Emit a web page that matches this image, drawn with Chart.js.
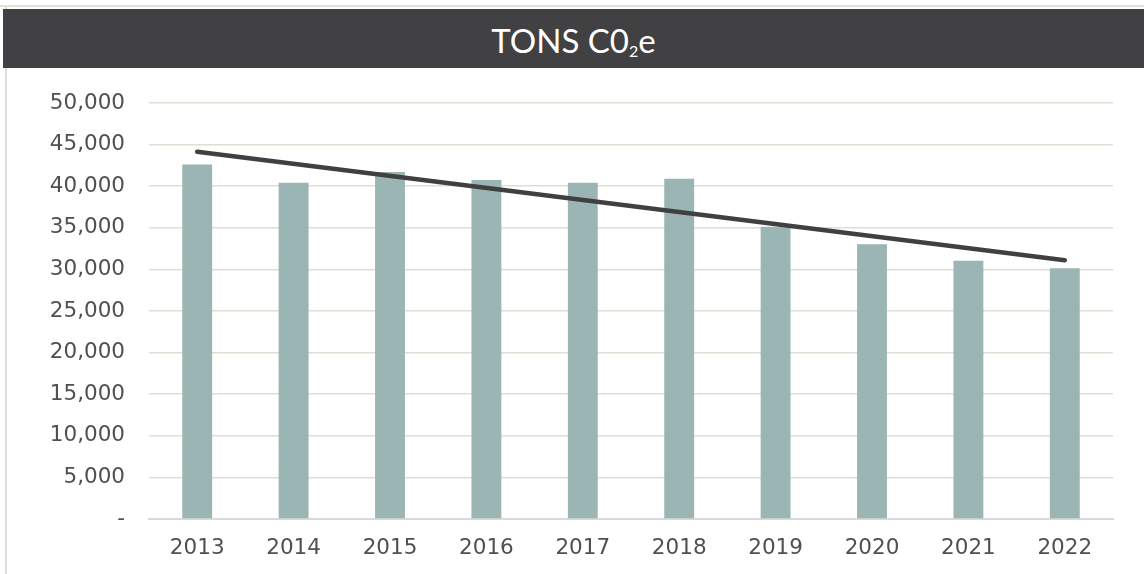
<!DOCTYPE html>
<html>
<head>
<meta charset="utf-8">
<script src="https://cdn.jsdelivr.net/npm/chart.js@4"></script>
<style>
  body { margin: 0; background: #fff; }
  #wrap { position: relative; width: 1144px; height: 574px; overflow: hidden; }
  #topline { position: absolute; left: 0; top: 5px; width: 1144px; height: 2px; background: #e3dfd6; }
  #leftline { position: absolute; left: 5px; top: 5px; width: 2px; height: 569px; background: #e3dfd6; }
  #titulo {
    position: absolute; left: 3px; top: 9px; width: 1141px; height: 59px;
    background: #414042; color: #fff; text-align: center;
    font-family: Lato, sans-serif; font-size: 33px; line-height: 62px;
  }
  #titulo sub { font-size: 16px; vertical-align: -4px; }
  canvas { position: absolute; left: 0; top: 0; }
</style>
</head>
<body>
<div id="wrap">
  <canvas id="myChart" width="1144" height="574"></canvas>
  <div id="topline"></div>
  <div id="leftline"></div>
  <div id="titulo">TONS C0<sub>2</sub>e</div>
</div>
<script>
const anios = ['2013', '2014', '2015', '2016', '2017', '2018', '2019', '2020', '2021', '2022'];
const toneladas = [42600, 40400, 41700, 40750, 40400, 40900, 35130, 33020, 31050, 30130];
// linea de tendencia: solo los extremos
const tendencia = [44150, null, null, null, null, null, null, null, null, 31100];

const fuente = { family: '"DejaVu Sans", sans-serif', size: 21.5 };

const ctx = document.getElementById('myChart').getContext('2d');
new Chart(ctx, {
    data: {
        labels: anios,
        datasets: [
            {
                type: 'line',
                data: tendencia,
                spanGaps: true,
                borderColor: '#404040',
                borderWidth: 4.5,
                borderCapStyle: 'round',
                pointRadius: 0,
                order: 0
            },
            {
                type: 'bar',
                data: toneladas,
                backgroundColor: '#9bb4b4',
                barPercentage: 0.31,
                categoryPercentage: 1,
                order: 1
            }
        ]
    },
    options: {
        responsive: false,
        animation: false,
        layout: { padding: { top: 103, right: 31, left: 0, bottom: 0 } },
        plugins: { legend: { display: false }, tooltip: { enabled: false } },
        scales: {
            x: {
                grid: { display: false, drawTicks: false },
                border: { color: '#d9d9d9', width: 2 },
                ticks: { color: '#505050', font: fuente, padding: 17 },
                afterFit: s => { s.height = 55; }
            },
            y: {
                min: 0,
                max: 50000,
                grid: { color: '#e0ddd2', lineWidth: 1.5, drawTicks: false },
                border: { display: false },
                ticks: {
                    stepSize: 5000,
                    color: '#505050',
                    font: fuente,
                    padding: 24,
                    callback: v => v === 0 ? '-' : v.toLocaleString('en-US')
                },
                afterFit: s => { s.width = 149; }
            }
        }
    }
});
</script>
</body>
</html>
